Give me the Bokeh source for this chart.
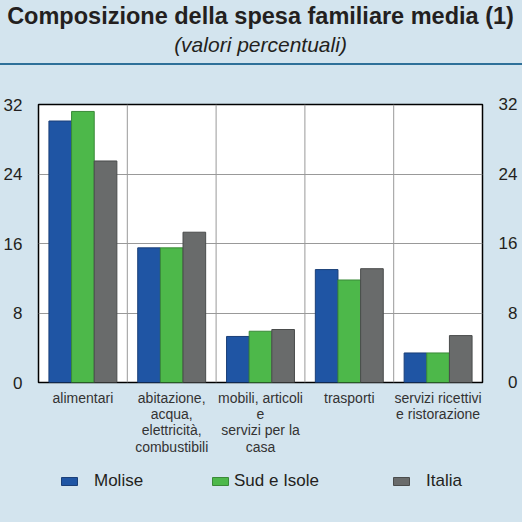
from bokeh.plotting import figure
from bokeh.layouts import column
from bokeh.models import (FactorRange, Range1d, Span, Legend, LegendItem, Title, Div,
                          LinearAxis, FixedTicker, ColumnDataSource)
from bokeh.transform import dodge
from bokeh.embed import file_html
from bokeh.resources import INLINE

# ---- data ----
categories = [
    "alimentari",
    "abitazione,\nacqua,\nelettricità,\ncombustibili",
    "mobili, articoli\ne\nservizi per la\ncasa",
    "trasporti",
    "servizi ricettivi\ne ristorazione",
]
series_names = ["Molise", "Sud e Isole", "Italia"]
molise = [30.1, 15.5, 5.3, 13.0, 3.4]
sud_isole = [31.2, 15.5, 5.9, 11.8, 3.4]
italia = [25.5, 17.3, 6.1, 13.1, 5.4]
y_ticks = [0, 8, 16, 24, 32]

title_text = "Composizione della spesa familiare media (1)"
subtitle_text = "(valori percentuali)"

# ---- styles ----
BG = "#d3e4ee"
FONT = "Liberation Sans"
TXT = "#231f20"
fills = ["#1f55a4", "#4db84a", "#696b6b"]
lines = ["#1a3f78", "#3a8a38", "#4a4c4c"]
offsets = [-0.255, 0.0, 0.255]
bar_w = 0.255
W = 522
HEAD_H, MAIN_H, FOOT_H = 63, 395, 62

source = ColumnDataSource(dict(cat=categories, molise=molise, sud=sud_isole, italia=italia))

# ---- header (titles) ----
head = figure(width=W, height=HEAD_H, output_backend="svg", toolbar_location=None,
              min_border=0, background_fill_color=BG, border_fill_color=BG,
              outline_line_color=None)
head.axis.visible = False
head.grid.visible = False
head.add_layout(Title(text=subtitle_text, align="center", text_font=FONT,
                      text_font_size="21px", text_font_style="italic", text_color=TXT,
                      standoff=4), "above")
head.add_layout(Title(text=title_text, align="center", text_font=FONT,
                      text_font_size="23.5px", text_font_style="bold", text_color=TXT,
                      standoff=0), "above")

divider = Div(text="", width=W, height=2, margin=0,
              styles={"background-color": "#2e7099"})

# ---- main chart ----
p = figure(x_range=FactorRange(*categories), y_range=Range1d(0, 32),
           width=W, height=MAIN_H, output_backend="svg", toolbar_location=None,
           min_border_left=37, min_border_right=40, min_border_top=39, min_border_bottom=78,
           background_fill_color="white", border_fill_color=BG,
           outline_line_color="black", outline_line_width=1.5)

renderers = []
for col, fc, lc, off in zip(["molise", "sud", "italia"], fills, lines, offsets):
    r = p.vbar(x=dodge("cat", off, range=p.x_range), top=col, width=bar_w, source=source,
               fill_color=fc, line_color=lc, line_width=1)
    renderers.append(r)

p.xgrid.grid_line_color = None
p.ygrid.ticker = FixedTicker(ticks=y_ticks)
p.ygrid.grid_line_color = "#999999"
p.ygrid.grid_line_width = 1
for loc in range(1, len(categories)):
    p.add_layout(Span(location=loc, dimension="height", line_color="#999999", line_width=1))


def style_y(ax, standoff):
    ax.ticker = FixedTicker(ticks=y_ticks)
    ax.axis_line_color = None
    ax.major_tick_line_color = None
    ax.minor_tick_line_color = None
    ax.major_tick_in = 0
    ax.major_tick_out = 0
    ax.major_label_standoff = standoff
    ax.major_label_text_font = FONT
    ax.major_label_text_font_size = "17px"
    ax.major_label_text_color = TXT


style_y(p.yaxis[0], 16)
raxis = LinearAxis()
style_y(raxis, 16)
raxis.major_label_overrides = {0: "\u20070", 8: "\u20078"}
p.add_layout(raxis, "right")

xa = p.xaxis[0]
xa.axis_line_color = None
xa.major_tick_line_color = None
xa.minor_tick_line_color = None
xa.major_tick_in = 0
xa.major_tick_out = 0
xa.major_label_standoff = 7
xa.major_label_text_font = FONT
xa.major_label_text_font_size = "14px"
xa.major_label_text_color = "#333333"
xa.major_label_text_line_height = 1.03

# ---- footer with legend (hidden proxies drawn from the same data) ----
foot = figure(x_range=FactorRange(*categories), y_range=Range1d(0, 32),
              width=W, height=FOOT_H, output_backend="svg", toolbar_location=None,
              min_border=0, background_fill_color=BG, border_fill_color=BG,
              outline_line_color=None)
foot.axis.visible = False
foot.grid.visible = False
leg_x = [21, 172, 353]
leg_standoff = [15, 4, 15]
for name, col, fc, lc, lx, ls in zip(series_names, ["molise", "sud", "italia"], fills, lines,
                                     leg_x, leg_standoff):
    proxy = foot.vbar(x="cat", top=col, width=bar_w, source=source, fill_color=fc,
                      line_color=lc, line_width=1, visible=False)
    leg = Legend(items=[LegendItem(label=name, renderers=[proxy])], location=(lx, 31),
                 orientation="horizontal", background_fill_alpha=0, border_line_color=None,
                 inactive_fill_alpha=0,
                 glyph_width=20, glyph_height=10, label_standoff=ls,
                 label_text_font=FONT, label_text_font_size="17px", label_text_color=TXT,
                 padding=0, margin=0, spacing=0)
    foot.add_layout(leg)

layout = column(head, divider, p, foot, spacing=0, styles={"background-color": BG})
open("out.html", "w").write(file_html(layout, INLINE))
